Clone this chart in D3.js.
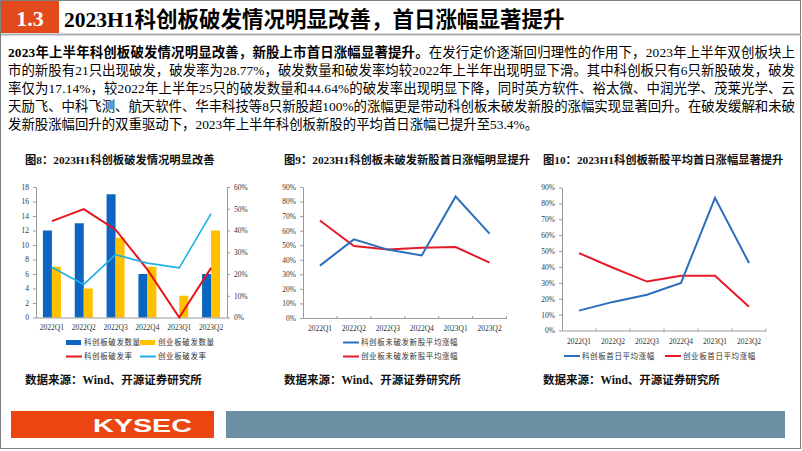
<!DOCTYPE html>
<html><head><meta charset="utf-8">
<script src="https://cdn.jsdelivr.net/npm/d3@7"></script>
<style>body{margin:0;background:#fff}svg{display:block}</style>
</head><body>
<script>
// ---------- DATA ----------
const categories = ["2022Q1","2022Q2","2022Q3","2022Q4","2023Q1","2023Q2"];
// Fig 8
const kcbBreakCount = [12,13,17,6,0,6];
const cybBreakCount = [7,4,11,7,3,12];
const kcbBreakRate = [44.3,49.8,40.4,22,0,22.8];
const cybBreakRate = [23.1,15.2,28.9,25,22.8,47.8];
const countTicks = [0,2,4,6,8,10,12,14,16,18];
const rateTicks = [0,10,20,30,40,50,60];
// Fig 9
const kcbUnbrokenGain = [36,54,47,43,83.5,58];
const cybUnbrokenGain = [67,49.5,47,48.3,48.8,38];
// Fig 10
const kcbAvgGain = [12.5,18,22.5,30,83.5,42.5];
const cybAvgGain = [48.7,39.5,30.8,34.5,34.5,15];
const pctTicks = [0,10,20,30,40,50,60,70,80,90];

const headerNum = "1.3";
const headerTitle = "2023H1科创板破发情况明显改善，首日涨幅显著提升";
const paraBold = "2023年上半年科创板破发情况明显改善，新股上市首日涨幅显著提升。";
const paraLines = [
  "在发行定价逐渐回归理性的作用下，2023年上半年双创板块上",
  "市的新股有21只出现破发，破发率为28.77%，破发数量和破发率均较2022年上半年出现明显下滑。其中科创板只有6只新股破发，破发",
  "率仅为17.14%，较2022年上半年25只的破发数量和44.64%的破发率出现明显下降，同时英方软件、裕太微、中润光学、茂莱光学、云",
  "天励飞、中科飞测、航天软件、华丰科技等8只新股超100%的涨幅更是带动科创板未破发新股的涨幅实现显著回升。在破发缓解和未破",
  "发新股涨幅回升的双重驱动下，2023年上半年科创板新股的平均首日涨幅已提升至53.4%。"
];
const fig8Title = "图8：2023H1科创板破发情况明显改善";
const fig9Title = "图9：2023H1科创板未破发新股首日涨幅明显提升";
const fig10Title = "图10：2023H1科创板新股平均首日涨幅显著提升";
const sourceText = "数据来源：Wind、开源证券研究所";
const fig8Legend = ["科创板破发数量","创业板破发数量","科创板破发率","创业板破发率"];
const fig9Legend = ["科创板未破发新股平均涨幅","创业板未破发新股平均涨幅"];
const fig10Legend = ["科创板首日平均涨幅","创业板首日平均涨幅"];

// ---------- STYLE ----------
const SERIF = "'Liberation Serif','Noto Sans CJK SC',serif";
const ORANGE = "#e2491b";
const BLUE = "#0a66c2", YELLOW = "#ffc000", RED = "#e8141c", CYAN = "#1eb0e6";
const LBLUE = "#2a6fbd", LRED = "#e81a2a";
const AXIS = "#9a9a9a", TXT = "#333";

const svg = d3.select("body").append("svg").attr("width",802).attr("height",451)
  .style("font-family", SERIF);

// page frame
svg.append("rect").attr("x",0.5).attr("y",0.5).attr("width",800).attr("height",448)
  .attr("fill","none").attr("stroke","#808080").attr("stroke-width",1);

// header
svg.append("rect").attr("x",1).attr("y",1).attr("width",58).attr("height",32).attr("fill",ORANGE);
svg.append("line").attr("x1",1).attr("x2",801).attr("y1",34.5).attr("y2",34.5)
  .attr("stroke","#a9b1b8").attr("stroke-width",2);
svg.append("text").attr("x",30).attr("y",26).attr("text-anchor","middle")
  .attr("fill","#fff").attr("font-weight","bold").attr("font-size",22).text(headerNum);
svg.append("text").attr("x",64).attr("y",27).attr("fill","#000")
  .attr("font-weight","bold").attr("font-size",21.5).text(headerTitle);

// paragraph
const lineY = [57, 75, 93, 111, 129];
paraLines.forEach((ln,i)=>{
  const t = svg.append("text").attr("x",8).attr("y",lineY[i]).attr("font-size",13.4).attr("fill","#000");
  if(i===0){
    t.append("tspan").attr("font-weight","bold").text(paraBold);
    t.append("tspan").text(ln);
  } else t.text(ln);
  if(i<4) t.attr("textLength",787).attr("lengthAdjust","spacing");
});

// helpers
function titleText(x, s){
  svg.append("text").attr("x",x).attr("y",164).attr("font-size",11.3)
    .attr("font-weight","bold").attr("fill","#111").text(s);
}
function sourceAt(x){
  svg.append("text").attr("x",x).attr("y",384).attr("font-size",11.5)
    .attr("font-weight","bold").attr("fill","#111").text(sourceText);
}
function styleAxis(g){
  g.select(".domain").attr("stroke",AXIS);
  g.selectAll(".tick line").attr("stroke",AXIS);
  g.selectAll(".tick text").attr("fill",TXT).attr("font-size",7.5).attr("font-family",SERIF);
}
function legendItem(x, y, kind, color, label){
  if(kind==="rect") svg.append("rect").attr("x",x).attr("y",y-2.5).attr("width",15).attr("height",5).attr("fill",color);
  else svg.append("line").attr("x1",x).attr("x2",x+16).attr("y1",y).attr("y2",y).attr("stroke",color).attr("stroke-width",2);
  svg.append("text").attr("x",x+18).attr("y",y+2.7).attr("font-size",7.5).attr("fill",TXT)
    .attr("letter-spacing",0.6).text(label);
}

// ---------- FIG 8 ----------
titleText(25, fig8Title);
{
  const L=36, R=227, T=187, B=317.5;
  const x = d3.scaleBand().domain(categories).range([L,R]);
  const yL = d3.scaleLinear().domain([0,18]).range([B,T]);
  const yR = d3.scaleLinear().domain([0,60]).range([B,T]);
  const sub = d3.scaleBand().domain(["kcb","cyb"]).range([-9,9]);
  const g = svg.append("g");
  // bars
  const bars = [["kcb",kcbBreakCount,BLUE],["cyb",cybBreakCount,YELLOW]];
  bars.forEach(([k,vals,c])=>{
    g.selectAll(null).data(vals).enter().append("rect")
      .attr("x",(d,i)=>x(categories[i])+x.bandwidth()/2+sub(k))
      .attr("width",sub.bandwidth())
      .attr("y",d=>yL(d)).attr("height",d=>B-yL(d)).attr("fill",c);
  });
  // axes
  const ax = svg.append("g").attr("transform",`translate(0,${B})`)
    .call(d3.axisBottom(x).tickSize(0).tickPadding(7));
  styleAxis(ax);
  const ayL = svg.append("g").attr("transform",`translate(${L},0)`)
    .call(d3.axisLeft(yL).tickValues(countTicks).tickSize(3).tickSizeOuter(0).tickPadding(4));
  styleAxis(ayL);
  const ayR = svg.append("g").attr("transform",`translate(${R},0)`)
    .call(d3.axisRight(yR).tickValues(rateTicks).tickSize(3).tickSizeOuter(0).tickPadding(4).tickFormat(d=>d+"%"));
  styleAxis(ayR);
  // lines
  const line = d3.line().x((d,i)=>x(categories[i])+x.bandwidth()/2).y(d=>yR(d));
  svg.append("path").datum(kcbBreakRate).attr("d",line).attr("fill","none").attr("stroke",RED).attr("stroke-width",2);
  svg.append("path").datum(cybBreakRate).attr("d",line).attr("fill","none").attr("stroke",CYAN).attr("stroke-width",1.6);
  legendItem(66,342.5,"rect",BLUE,fig8Legend[0]);
  legendItem(140,342.5,"rect",YELLOW,fig8Legend[1]);
  legendItem(66,356.5,"line",RED,fig8Legend[2]);
  legendItem(140,356.5,"line",CYAN,fig8Legend[3]);
  sourceAt(25);
}

// ---------- line chart helper ----------
function lineChart(L,R,T,B,s1,s2){
  const x = d3.scaleBand().domain(categories).range([L,R]);
  const y = d3.scaleLinear().domain([0,90]).range([B,T]);
  const ax = svg.append("g").attr("transform",`translate(0,${B})`)
    .call(d3.axisBottom(x).tickSize(0).tickPadding(8));
  styleAxis(ax);
  // small ticks at band boundaries
  svg.append("g").selectAll("line").data(categories).enter().append("line")
    .attr("x1",d=>x(d)+x.bandwidth()).attr("x2",d=>x(d)+x.bandwidth())
    .attr("y1",B-2).attr("y2",B+1).attr("stroke",AXIS);
  const ay = svg.append("g").attr("transform",`translate(${L},0)`)
    .call(d3.axisLeft(y).tickValues(pctTicks).tickSize(3).tickSizeOuter(0).tickPadding(4).tickFormat(d=>d+"%"));
  styleAxis(ay);
  const line = d3.line().x((d,i)=>x(categories[i])+x.bandwidth()/2).y(d=>y(d));
  svg.append("path").datum(s2).attr("d",line).attr("fill","none").attr("stroke",LRED).attr("stroke-width",2);
  svg.append("path").datum(s1).attr("d",line).attr("fill","none").attr("stroke",LBLUE).attr("stroke-width",2);
}

// ---------- FIG 9 ----------
titleText(284, fig9Title);
lineChart(303, 506.5, 187, 318, kcbUnbrokenGain, cybUnbrokenGain);
legendItem(343,342.5,"line",LBLUE,fig9Legend[0]);
legendItem(343,356.5,"line",LRED,fig9Legend[1]);
sourceAt(284);

// ---------- FIG 10 ----------
titleText(543, fig10Title);
lineChart(562, 766, 187.5, 330.5, kcbAvgGain, cybAvgGain);
legendItem(564,356,"line",LBLUE,fig10Legend[0]);
legendItem(665,356,"line",LRED,fig10Legend[1]);
sourceAt(543);

// ---------- FOOTER ----------
svg.append("rect").attr("x",11).attr("y",411).attr("width",203).attr("height",27).attr("fill","#eb4511");
svg.append("rect").attr("x",226).attr("y",411).attr("width",559).attr("height",27).attr("fill","#6b8fa3");
svg.append("text").attr("x",93).attr("y",432).attr("fill","#fff").attr("font-weight","bold")
  .attr("font-family","'Liberation Sans',Arial,sans-serif").attr("font-size",19)
  .attr("textLength",99).attr("lengthAdjust","spacingAndGlyphs").text("KYSEC");
</script>
</body></html>
